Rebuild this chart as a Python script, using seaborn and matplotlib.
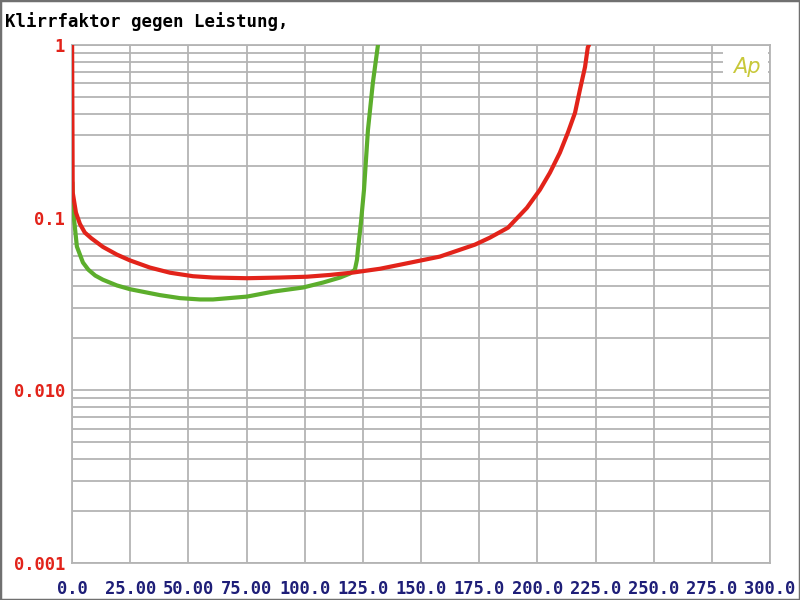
import matplotlib
matplotlib.use("Agg")
import matplotlib.pyplot as plt
import seaborn as sns
import pandas as pd
from matplotlib.patches import Rectangle

# ---- data ----
red_power = [0.05, 0.3, 1.7, 3.4, 5.5, 8.3, 13.3, 19.3, 25.0, 33.5, 42.1, 52.0, 60.6,
             75.2, 89.4, 101.0, 110.9, 120.8, 132.4, 141.0, 158.1, 173.2, 179.6,
             187.4, 195.5, 201.1, 205.4, 209.7, 213.1, 216.2, 218.3, 220.5, 221.7, 222.2]
red_thd = [1.0, 0.140, 0.107, 0.092, 0.082, 0.076, 0.0677, 0.0611, 0.0565, 0.0514,
           0.0480, 0.0458, 0.0450, 0.0446, 0.0450, 0.0455, 0.0466, 0.0481, 0.0506,
           0.0534, 0.0595, 0.0698, 0.0766, 0.0875, 0.114, 0.145, 0.182, 0.238, 0.310,
           0.405, 0.550, 0.746, 0.97, 1.0]

green_power = [0.15, 0.4, 0.9, 2.1, 4.7, 7.0, 10.0, 13.3, 19.3, 25.0, 37.8, 46.4, 55.0,
               60.6, 75.2, 86.4, 99.3, 107.9, 115.2, 119.5, 121.6, 122.5, 122.9, 124.2,
               125.5, 127.2, 129.3, 131.5]
green_thd = [0.16, 0.127, 0.0973, 0.068, 0.055, 0.050, 0.0462, 0.0437, 0.0405,
             0.0385, 0.0356, 0.0342, 0.0336, 0.0336, 0.0349, 0.0373, 0.0394, 0.0421,
             0.0450, 0.0475, 0.0500, 0.0572, 0.0653, 0.094, 0.145, 0.322, 0.603, 1.0]

x_ticks = [0, 25, 50, 75, 100, 125, 150, 175, 200, 225, 250, 275, 300]
x_tick_labels = ["0.0", "25.00", "50.00", "75.00", "100.0", "125.0", "150.0",
                 "175.0", "200.0", "225.0", "250.0", "275.0", "300.0"]
y_ticks = [0.001, 0.01, 0.1, 1]
y_tick_labels = ["0.001", "0.010", "0.1", "1"]

title = "Klirrfaktor gegen Leistung,"

# ---- plotting ----
sns.set_style("white")
plt.rcParams['font.family'] = ['DejaVu Sans Mono', 'DejaVu Sans']

df_red = pd.DataFrame({"P": red_power, "THD": red_thd})
df_green = pd.DataFrame({"P": green_power, "THD": green_thd})

fig = plt.figure(figsize=(8, 6), dpi=100)
ax = fig.add_axes([72/800, 1 - 563/600, (770 - 72)/800, (563 - 45)/600])

grid_c = "#b4b4b4"
sns.lineplot(data=df_green, x="P", y="THD", ax=ax, color="#5cae2c", linewidth=3.0,
             sort=False, estimator=None, zorder=4)
sns.lineplot(data=df_red, x="P", y="THD", ax=ax, color="#e2231a", linewidth=3.0,
             sort=False, estimator=None, zorder=5)

ax.set_yscale("log")
ax.set_xlim(0, 300)
ax.set_ylim(0.001, 1)
ax.set_xticks(x_ticks)
ax.set_xticklabels(x_tick_labels)
ax.set_yticks(y_ticks)
ax.set_yticklabels(y_tick_labels)
ax.set_xlabel("")
ax.set_ylabel("")

ax.grid(True, which="major", color=grid_c, linewidth=1.3)
ax.grid(True, which="minor", axis="y", color=grid_c, linewidth=1.3)
ax.set_axisbelow(True)
for s in ax.spines.values():
    s.set_color(grid_c)
    s.set_linewidth(1.3)

ax.tick_params(axis="both", which="both", length=0)
ax.tick_params(axis="x", pad=12, labelsize=12.3, labelcolor="#1e1e78")
ax.tick_params(axis="y", pad=5, labelsize=12.3, labelcolor="#e2231a")
for lbl in ax.get_xticklabels() + ax.get_yticklabels():
    lbl.set_fontweight("bold")

# "Ap" logo with white background box
ax.add_patch(Rectangle((0.933, 0.937), 0.064, 0.056, transform=ax.transAxes,
                       facecolor="white", edgecolor="none", zorder=2.5))
ax.text(0.967, 0.958, "Ap", transform=ax.transAxes, ha="center", va="center",
        fontsize=15, color="#c8c83a", fontstyle="italic", family="DejaVu Sans",
        fontweight="light", zorder=3)

fig.text(5/800, 1 - 22/600, title, ha="left", va="center", fontsize=12.5,
         color="black", fontweight="bold")

# figure border
fig.patches.append(Rectangle((0, 0), 1, 1, transform=fig.transFigure, fill=False,
                             edgecolor="#707070", linewidth=2.5))

fig.savefig("out.png", dpi=100, facecolor="white")
